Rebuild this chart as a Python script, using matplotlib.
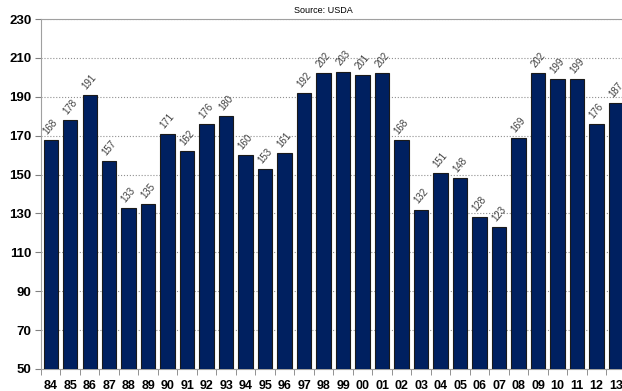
import matplotlib.pyplot as plt
import numpy as np

years = ['84', '85', '86', '87', '88', '89', '90', '91', '92', '93', '94', '95', '96', '97', '98',
         '99', '00', '01', '02', '03', '04', '05', '06', '07', '08', '09', '10', '11', '12', '13']
values = [168, 178, 191, 157, 133, 135, 171, 162, 176, 180, 160, 153, 161, 192, 202,
          203, 201, 202, 168, 132, 151, 148, 128, 123, 169, 202, 199, 199, 176, 187]

plt.rcParams['font.family'] = ['Liberation Sans', 'DejaVu Sans']

fig = plt.figure(figsize=(6.22, 3.91), dpi=100)
ax = fig.add_axes([0.0659, 0.0563, 0.94, 0.8951])

x = np.arange(len(years))
ax.bar(x, values, width=0.74, color='#002060', edgecolor='#1a1a1a', linewidth=0.8, zorder=3)

for xi, v in zip(x, values):
    ax.annotate(str(v), (xi, v), xytext=(0, 9.5), textcoords='offset points',
                rotation=50, ha='center', va='center', fontsize=7, color='#404040',
                rotation_mode='anchor')

ax.set_xlim(-0.5, len(years) - 0.5)
ax.set_ylim(50, 230)
ax.set_yticks(range(50, 231, 20))
ax.set_xticks(x)
ax.set_xticklabels(years, fontsize=9, fontweight='bold')
ax.set_xticks(np.arange(-0.5, len(years), 1), minor=True)
ax.tick_params(axis='x', which='major', length=0, pad=8)
ax.tick_params(axis='x', which='minor', length=4, color='#808080')
ax.tick_params(axis='y', length=4, color='#808080', labelsize=9.5, pad=3)
for lab in ax.get_yticklabels():
    lab.set_fontweight('bold')

ax.yaxis.grid(True, linestyle=':', color='#909090', linewidth=0.8, zorder=0)
ax.set_axisbelow(True)
for s in ['left', 'bottom', 'top']:
    ax.spines[s].set_color('#a0a0a0')
ax.spines['right'].set_visible(False)

# title is mostly cut off at the top edge in the original
fig.text(0.52, 1.003, 'U.S. Annual Yield by Year (Bushels)', ha='center', va='bottom',
         fontsize=10, fontweight='bold')
fig.text(0.52, 0.972, 'Source: USDA', ha='center', va='center', fontsize=6.5)

fig.savefig('out.png', dpi=100)
